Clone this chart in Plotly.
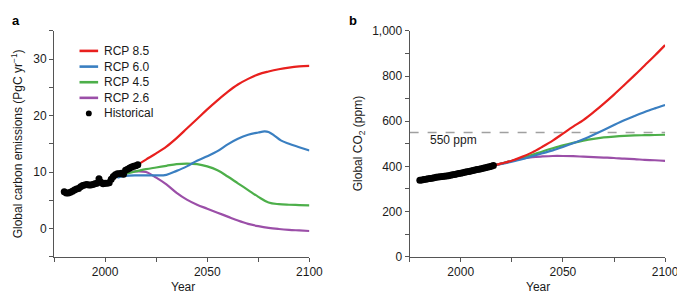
import plotly.graph_objects as go

# ---------------- Data ----------------
hist_years = list(range(1980, 2017))
hist_emissions = [6.5, 6.3, 6.3, 6.4, 6.6, 6.8, 7.0, 7.1, 7.4, 7.6,
                  7.7, 7.8, 7.7, 7.7, 7.8, 7.9, 8.0, 8.8, 8.2, 7.9,
                  8.0, 8.0, 8.1, 8.7, 9.2, 9.5, 9.7, 9.7, 9.8, 9.6,
                  10.3, 10.5, 10.7, 10.9, 11.0, 11.1, 11.3]
hist_co2 = [338.8, 340.1, 341.5, 343.1, 344.7, 346.1, 347.4, 349.2, 351.6, 353.1,
            354.4, 355.6, 356.4, 357.1, 358.8, 360.8, 362.6, 363.7, 366.7, 368.4,
            369.7, 371.3, 373.5, 375.8, 377.5, 379.8, 381.9, 383.8, 385.6, 387.4,
            389.9, 391.7, 393.9, 396.5, 398.7, 400.8, 404.2]

# Emission scenarios (PgC/yr)
rcp85_em_years = [2016, 2020, 2025, 2030, 2035, 2040, 2045, 2050, 2055, 2060,
                  2065, 2070, 2075, 2080, 2085, 2090, 2095, 2100]
rcp85_em = [11.3, 12.2, 13.3, 14.5, 16.0, 17.7, 19.4, 21.1, 22.7, 24.2,
            25.5, 26.5, 27.3, 27.8, 28.2, 28.5, 28.7, 28.8]
rcp60_em_years = [2006, 2010, 2015, 2020, 2025, 2030, 2035, 2040, 2045, 2050,
                  2055, 2060, 2065, 2070, 2075, 2078, 2080, 2083, 2086, 2090, 2095, 2100]
rcp60_em = [9.0, 9.3, 9.4, 9.4, 9.4, 9.5, 10.2, 11.0, 12.0, 12.8,
            13.7, 14.9, 15.9, 16.6, 17.0, 17.2, 17.1, 16.4, 15.6, 15.0, 14.4, 13.8]
rcp45_em_years = [2006, 2010, 2015, 2020, 2025, 2030, 2035, 2040, 2045, 2050,
                  2055, 2060, 2065, 2070, 2075, 2080, 2085, 2090, 2095, 2100]
rcp45_em = [9.3, 9.7, 10.1, 10.5, 10.8, 11.1, 11.4, 11.5, 11.4, 11.0,
            10.3, 9.2, 8.0, 6.8, 5.6, 4.6, 4.3, 4.2, 4.15, 4.1]
rcp26_em_years = [2012, 2015, 2020, 2025, 2030, 2035, 2040, 2045, 2050, 2055,
                  2060, 2065, 2070, 2075, 2080, 2085, 2090, 2095, 2100]
rcp26_em = [10.0, 10.1, 10.0, 9.0, 7.8, 6.3, 5.1, 4.2, 3.5, 2.8,
            2.1, 1.4, 0.8, 0.4, 0.1, -0.1, -0.25, -0.35, -0.45]

# CO2 scenarios (ppm)
co2_years = [2016, 2020, 2025, 2030, 2035, 2040, 2045, 2050, 2055, 2060,
             2065, 2070, 2075, 2080, 2085, 2090, 2095, 2100]
rcp85_co2 = [404, 413, 425, 442, 462, 487, 514, 545, 576, 605,
             640, 678, 718, 760, 803, 847, 891, 937]
rcp60_co2 = [404, 411, 421, 432, 445, 458, 471, 486, 502, 520,
             540, 561, 583, 604, 623, 641, 657, 672]
rcp45_co2 = [404, 412, 424, 437, 451, 466, 480, 493, 504, 514,
             522, 528, 532, 535, 537, 538, 539, 540]
rcp26_co2 = [404, 413, 425, 435, 441, 444, 446, 446, 445, 443,
             441, 439, 437, 434, 432, 429, 427, 424]

threshold_ppm = 550
threshold_label = "550 ppm"

scenario_names = ["RCP 8.5", "RCP 6.0", "RCP 4.5", "RCP 2.6"]
scenario_colors = ["#E8201E", "#3A7FC1", "#4DAF4A", "#9B4FA8"]

x_tickvals = [1975, 2000, 2025, 2050, 2075, 2100]
x_ticktext = ["", "2000", "", "2050", "", "2100"]
ya_tickvals = [-5, 0, 5, 10, 15, 20, 25, 30, 35]
ya_ticktext = ["", "0", "", "10", "", "20", "", "30", ""]
yb_tickvals = [0, 100, 200, 300, 400, 500, 600, 700, 800, 900, 1000]
yb_ticktext = ["0", "", "200", "", "400", "", "600", "", "800", "", "1,000"]

# ---------------- Figure ----------------
W, H = 685, 293
FONT = "Liberation Sans, Arial, Helvetica, sans-serif"
AX = "#555555"
TXT = "#1a1a1a"


def px(x):
    return x / W


def py(y):
    return 1 - y / H


fig = go.Figure()

em_sets = [(rcp85_em_years, rcp85_em), (rcp60_em_years, rcp60_em),
           (rcp45_em_years, rcp45_em), (rcp26_em_years, rcp26_em)]
co2_sets = [rcp85_co2, rcp60_co2, rcp45_co2, rcp26_co2]

# Panel a lines (drawn purple -> red)
for i in [3, 2, 1, 0]:
    yrs, vals = em_sets[i]
    fig.add_trace(go.Scatter(x=yrs, y=vals, mode="lines", name=scenario_names[i],
                             line=dict(color=scenario_colors[i], width=2.2, shape="spline", smoothing=1.0),
                             xaxis="x", yaxis="y", showlegend=False, hoverinfo="skip"))
fig.add_trace(go.Scatter(x=hist_years, y=hist_emissions, mode="markers", name="Historical",
                         marker=dict(color="black", size=7), xaxis="x", yaxis="y",
                         showlegend=False, hoverinfo="skip"))

# Panel b lines
for i in [3, 2, 1, 0]:
    fig.add_trace(go.Scatter(x=co2_years, y=co2_sets[i], mode="lines", name=scenario_names[i],
                             line=dict(color=scenario_colors[i], width=2.2, shape="spline", smoothing=1.0),
                             xaxis="x2", yaxis="y2", showlegend=False, hoverinfo="skip"))
fig.add_trace(go.Scatter(x=hist_years, y=hist_co2, mode="markers", name="Historical",
                         marker=dict(color="black", size=7), xaxis="x2", yaxis="y2",
                         showlegend=False, hoverinfo="skip"))

# threshold line
fig.add_shape(type="line", xref="x2 domain", yref="y2", x0=0, x1=1,
              y0=threshold_ppm, y1=threshold_ppm,
              line=dict(color="#A0A0A0", width=1.5, dash="dash"), layer="below")

axis_common = dict(showline=True, linecolor=AX, linewidth=1, ticks="outside",
                   ticklen=4, tickcolor=AX, tickwidth=1, showgrid=False, zeroline=False,
                   tickfont=dict(family=FONT, size=12, color=TXT), fixedrange=True)

ya_dom = [py(253.8), py(16.7)]
fig.update_layout(
    width=W, height=H,
    margin=dict(l=0, r=0, t=0, b=0),
    paper_bgcolor="white", plot_bgcolor="white",
    showlegend=False,
    font=dict(family=FONT, size=12, color=TXT),
    xaxis=dict(domain=[px(47), px(307.7)], range=[1975, 2100], anchor="y",
               tickmode="array", tickvals=x_tickvals, ticktext=x_ticktext, **axis_common),
    yaxis=dict(domain=ya_dom, range=[-5, 35], anchor="x",
               tickmode="array", tickvals=ya_tickvals, ticktext=ya_ticktext, **axis_common),
    xaxis2=dict(domain=[px(410), px(670.8)], range=[1975, 2100], anchor="y2",
                tickmode="array", tickvals=x_tickvals, ticktext=x_ticktext, **axis_common),
    yaxis2=dict(domain=ya_dom, range=[0, 1000], anchor="x2",
                tickmode="array", tickvals=yb_tickvals, ticktext=yb_ticktext, **axis_common),
)

ann = []
# panel letters
ann.append(dict(x=px(2), y=py(6), xref="paper", yref="paper", text="<b>a</b>",
                showarrow=False, xanchor="left", yanchor="middle",
                font=dict(family=FONT, size=13, color="black")))
ann.append(dict(x=px(346), y=py(6), xref="paper", yref="paper", text="<b>b</b>",
                showarrow=False, xanchor="left", yanchor="middle",
                font=dict(family=FONT, size=13, color="black")))
# axis titles
ann.append(dict(x=px(9), y=py(135), xref="paper", yref="paper",
                text="Global carbon emissions (PgC yr<sup>−1</sup>)", textangle=-90,
                showarrow=False, xanchor="center", yanchor="middle",
                font=dict(family=FONT, size=12, color=TXT)))
ann.append(dict(x=px(358), y=py(135), xref="paper", yref="paper",
                text="Global CO<sub>2</sub> (ppm)", textangle=-90,
                showarrow=False, xanchor="center", yanchor="middle",
                font=dict(family=FONT, size=12, color=TXT)))
ann.append(dict(x=px(179), y=py(285.5), xref="paper", yref="paper", text="Year",
                showarrow=False, xanchor="center", yanchor="middle",
                font=dict(family=FONT, size=12, color=TXT)))
ann.append(dict(x=px(541), y=py(285.5), xref="paper", yref="paper", text="Year",
                showarrow=False, xanchor="center", yanchor="middle",
                font=dict(family=FONT, size=12, color=TXT)))
# threshold label
ann.append(dict(x=1984, y=517, xref="x2", yref="y2", text=threshold_label,
                showarrow=False, xanchor="left", yanchor="middle",
                font=dict(family=FONT, size=12, color=TXT)))

# custom legend (panel a)
leg_rows = [37.7, 54.2, 70.6, 87.0, 103.4]
for i, name in enumerate(scenario_names):
    fig.add_shape(type="line", xref="paper", yref="paper",
                  x0=px(73), x1=px(92), y0=py(leg_rows[i]), y1=py(leg_rows[i]),
                  line=dict(color=scenario_colors[i], width=2.6))
    ann.append(dict(x=px(96), y=py(leg_rows[i]), xref="paper", yref="paper", text=name,
                    showarrow=False, xanchor="left", yanchor="middle",
                    font=dict(family=FONT, size=12, color=TXT)))
fig.add_shape(type="circle", xref="paper", yref="paper",
              x0=px(79.5), x1=px(85.5), y0=py(leg_rows[4] + 3), y1=py(leg_rows[4] - 3),
              fillcolor="black", line=dict(color="black", width=0))
ann.append(dict(x=px(96), y=py(leg_rows[4]), xref="paper", yref="paper", text="Historical",
                showarrow=False, xanchor="left", yanchor="middle",
                font=dict(family=FONT, size=12, color=TXT)))

fig.update_layout(annotations=ann)
fig.write_html("out.html")
